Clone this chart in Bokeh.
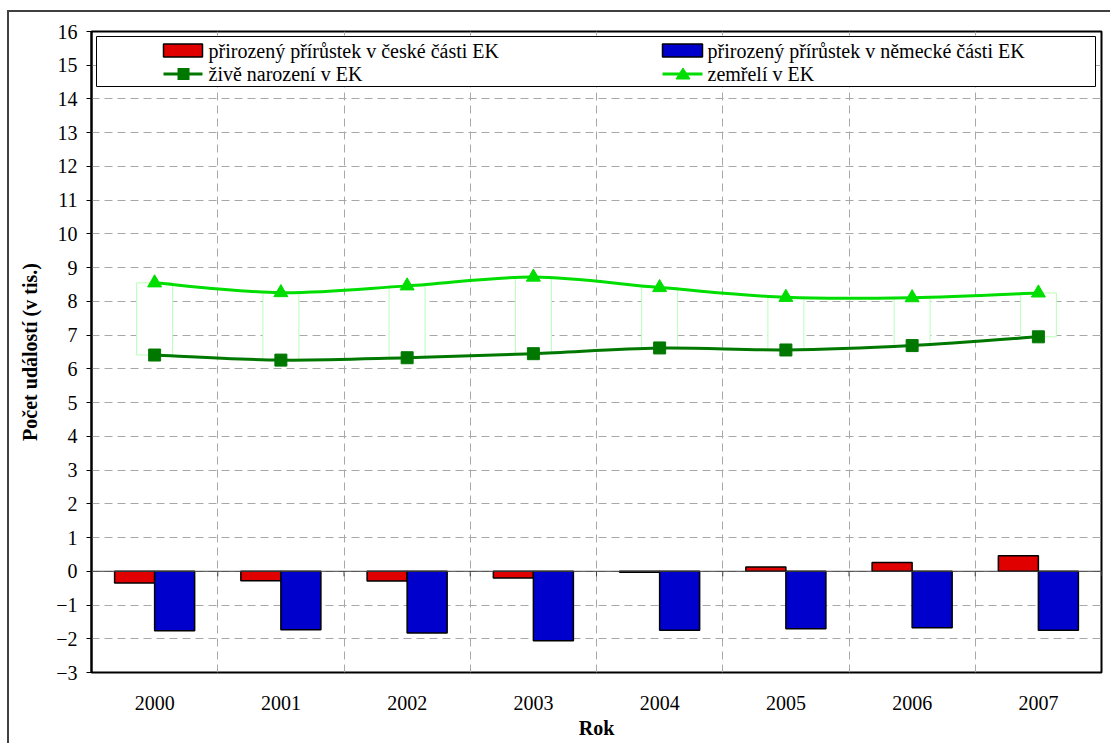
import numpy as np
from bokeh.plotting import figure
from bokeh.models import Range1d, FixedTicker, Span, BoxAnnotation, PolyAnnotation, Label
from bokeh.embed import file_html
from bokeh.resources import INLINE

# ---- data (thousands of events) ----
years = ["2000", "2001", "2002", "2003", "2004", "2005", "2006", "2007"]
births = [6.41, 6.26, 6.33, 6.45, 6.62, 6.56, 6.69, 6.95]        # živě narození v EK
deaths = [8.55, 8.26, 8.46, 8.72, 8.41, 8.12, 8.11, 8.25]        # zemřelí v EK
cz_increase = [-0.35, -0.28, -0.29, -0.20, -0.03, 0.13, 0.26, 0.46]   # česká část
de_increase = [-1.76, -1.73, -1.83, -2.06, -1.75, -1.70, -1.67, -1.75]  # německá část
y_ticks = list(range(-3, 17))
legend_labels = ["přirozený přírůstek v české části EK",
                 "přirozený přírůstek v německé části EK",
                 "živě narození v EK",
                 "zemřelí v EK"]
y_title = "Počet událostí (v tis.)"
x_title = "Rok"

RED = "#E00000"
BLUE = "#0000CC"
DGREEN = "#007800"
LGREEN = "#00DD00"
FONT = "Liberation Serif"
FS = "20px"

n = len(years)
xs = np.arange(n, dtype=float)
bounds = [i + 0.5 for i in range(-1, n)]

p = figure(width=1103, height=733,
           x_range=Range1d(-0.5, n - 0.5), y_range=Range1d(-3, 16),
           output_backend="svg", toolbar_location=None,
           min_border_left=82, min_border_top=19, min_border_right=11, min_border_bottom=73)
# outer chart-area frame (left/top edges; right/bottom lie outside the window in the original)
p.styles = {"border-left": "2px solid #404040", "border-top": "2px solid #404040",
            "margin-left": "7px", "margin-top": "10px"}
p.background_fill_color = "white"
p.border_fill_color = "white"
p.outline_line_color = "black"
p.outline_line_width = 2

# grids
p.xgrid.ticker = FixedTicker(ticks=bounds[1:-1])
p.ygrid.ticker = FixedTicker(ticks=y_ticks[1:-1])
for g in (p.xgrid, p.ygrid):
    g.grid_line_color = "#A8A8A8"
    g.grid_line_dash = "8 5"
    g.grid_line_width = 1

# axes
p.yaxis.ticker = FixedTicker(ticks=y_ticks)
p.yaxis.minor_tick_line_color = None
p.yaxis.major_tick_out = 5
p.yaxis.major_tick_in = 0
p.yaxis.major_tick_line_color = "black"
p.yaxis.axis_line_color = "black"
p.yaxis.axis_line_width = 2
p.yaxis.major_label_text_font = FONT
p.yaxis.major_label_text_font_size = FS
p.yaxis.major_label_text_color = "black"
p.yaxis.major_label_standoff = 9
p.yaxis.axis_label = y_title
p.yaxis.axis_label_text_font = FONT
p.yaxis.axis_label_text_font_style = "bold"
p.yaxis.axis_label_text_font_size = FS
p.yaxis.axis_label_text_color = "black"
p.yaxis.axis_label_standoff = 12

p.xaxis.ticker = FixedTicker(ticks=list(range(n)))
p.xaxis.major_label_overrides = {i: years[i] for i in range(n)}
p.xaxis.minor_tick_line_color = None
p.xaxis.major_tick_line_color = None
p.xaxis.axis_line_color = None
p.xaxis.major_label_text_font = FONT
p.xaxis.major_label_text_font_size = FS
p.xaxis.major_label_text_color = "black"
p.xaxis.major_label_standoff = 17
p.xaxis.axis_label = x_title
p.xaxis.axis_label_text_font = FONT
p.xaxis.axis_label_text_font_style = "bold"
p.xaxis.axis_label_text_font_size = FS
p.xaxis.axis_label_text_color = "black"
p.xaxis.axis_label_standoff = 4

# zero line with category tick marks
p.add_layout(Span(location=0, dimension="width", line_color="#404040", line_width=1))
p.segment(x0=bounds, y0=[0] * len(bounds), x1=bounds, y1=[-0.15] * len(bounds),
          line_color="#404040", line_width=1)

# bars
bw = 0.317
p.vbar(x=xs - bw / 2, top=cz_increase, bottom=0, width=bw,
       fill_color=RED, line_color="black", line_width=1.5)
p.vbar(x=xs + bw / 2, top=de_increase, bottom=0, width=bw,
       fill_color=BLUE, line_color="black", line_width=1.5)

# up-down bars between births and deaths
p.vbar(x=xs, bottom=births, top=deaths, width=0.285,
       fill_color="white", line_color="#B8FFB8", line_width=1)


def smooth(vals):
    v = np.asarray(vals, dtype=float)
    x0, y0, x1, y1, cx0, cy0, cx1, cy1 = ([] for _ in range(8))
    for i in range(len(v) - 1):
        ia = max(i - 1, 0)
        ib = min(i + 2, len(v) - 1)
        x0.append(xs[i]); y0.append(v[i]); x1.append(xs[i + 1]); y1.append(v[i + 1])
        cx0.append(xs[i] + (xs[i + 1] - xs[ia]) / 6)
        cy0.append(v[i] + (v[i + 1] - v[ia]) / 6)
        cx1.append(xs[i + 1] - (xs[ib] - xs[i]) / 6)
        cy1.append(v[i + 1] - (v[ib] - v[i]) / 6)
    return dict(x0=x0, y0=y0, x1=x1, y1=y1, cx0=cx0, cy0=cy0, cx1=cx1, cy1=cy1)


p.bezier(**smooth(births), line_color=DGREEN, line_width=3)
p.bezier(**smooth(deaths), line_color=LGREEN, line_width=3)
p.scatter(xs, births, marker="square", size=12, fill_color=DGREEN, line_color=DGREEN)
p.scatter(xs, deaths, marker="triangle", size=14, fill_color=LGREEN, line_color=LGREEN)

# legend (screen units relative to the plot frame)
p.add_layout(BoxAnnotation(left=5, right=1004, bottom=586, top=636,
                           left_units="screen", right_units="screen",
                           top_units="screen", bottom_units="screen",
                           fill_color="white", fill_alpha=1, line_color="black",
                           line_alpha=1, line_width=1))


def sbox(l, r, b, t, fill, line=None, lw=1):
    return BoxAnnotation(left=l, right=r, bottom=b, top=t,
                         left_units="screen", right_units="screen",
                         top_units="screen", bottom_units="screen",
                         fill_color=fill, fill_alpha=1,
                         line_color=line, line_alpha=1 if line else 0, line_width=lw)


col_x = [72, 571]
row_y = [622, 598.5]
p.add_layout(sbox(col_x[0], col_x[0] + 39, 615.5, 628.5, RED, "black", 1.5))
p.add_layout(sbox(col_x[1], col_x[1] + 40, 615.5, 628.5, BLUE, "black", 1.5))
p.add_layout(sbox(col_x[0], col_x[0] + 39, row_y[1] - 1.5, row_y[1] + 1.5, DGREEN))
p.add_layout(sbox(col_x[0] + 14, col_x[0] + 26, row_y[1] - 6, row_y[1] + 6, DGREEN))
p.add_layout(sbox(col_x[1], col_x[1] + 40, row_y[1] - 1.5, row_y[1] + 1.5, LGREEN))
tcx = col_x[1] + 20.5
p.add_layout(PolyAnnotation(xs=[tcx - 7, tcx + 7, tcx], ys=[row_y[1] - 5, row_y[1] - 5, row_y[1] + 6],
                            xs_units="screen", ys_units="screen",
                            fill_color=LGREEN, fill_alpha=1, line_color=LGREEN, line_alpha=1))
for k, lab in enumerate(legend_labels):
    col = k % 2
    row = k // 2
    p.add_layout(Label(x=col_x[col] + 45, y=row_y[row], x_units="screen", y_units="screen",
                       text=lab, text_font=FONT, text_font_size=FS, text_color="black",
                       text_baseline="middle", text_align="left"))

open("out.html", "w").write(file_html(p, INLINE))
